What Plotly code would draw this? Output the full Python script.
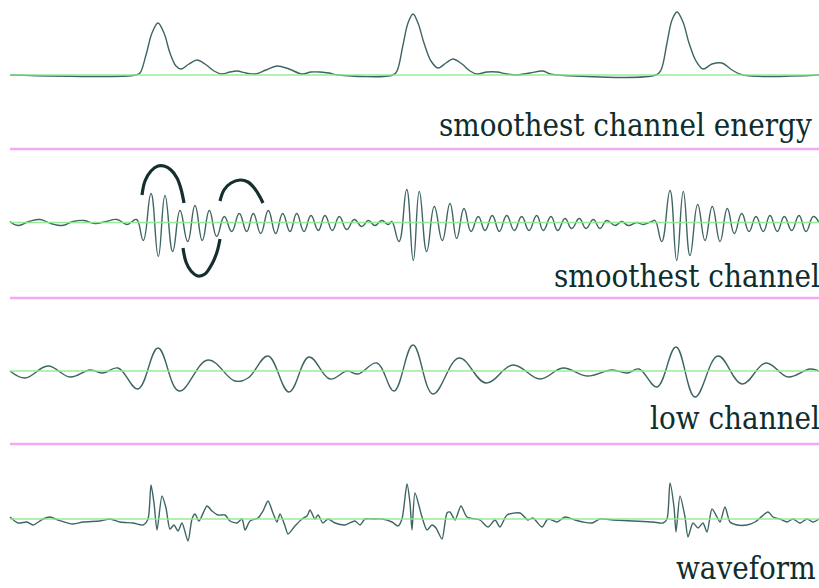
import plotly.graph_objects as go

# ---------------- data (time in samples, amplitude in arbitrary units) ----------------
energy_t = [10, 136, 140, 146, 152, 158, 164, 170, 176, 181, 189, 197, 205, 214, 222, 230, 237, 246, 255,
            266, 277, 289, 302, 311, 320, 329, 338, 393, 397, 403, 408, 413, 418, 424, 431, 438, 446, 453,
            462, 470, 477, 487, 497, 507, 517, 530, 543, 550, 557, 656, 661, 667, 672, 677, 683, 689, 696,
            703, 712, 722, 732, 743, 819]
energy_v = [0, 0, 2, 20, 42, 52, 42, 22, 9, 6, 11, 15, 11, 4, 1, 3, 4, 2, 1,
            5, 9, 6, 1, 3, 3, 2, 0, 0, 4, 30, 52, 61, 52, 32, 14, 7, 12, 16,
            11, 4, 1, 3, 3, 1, 0, 2, 4, 1, 0, 0, 5, 32, 55, 63, 53, 32, 14,
            6, 11, 12, 5, 0, 0]

smooth_t = [10, 18, 29, 40, 51, 62, 73, 84, 95, 106, 117, 127, 132, 136.7,
            143.3, 151, 158.3, 165, 172.7, 180, 187.7, 195, 202.3, 209.3, 216.7, 224.3, 231.7, 239.3,
            246.7, 253.3, 260.7, 268.3, 275.7, 282.7, 290, 296.7, 304, 311, 318.3, 325, 332.3, 339.3,
            346.7, 354.3, 361.7, 368.3, 375, 381.7, 388.3,
            391.7, 399, 406.7, 413.3, 419.3, 426.7, 434.3, 442.3, 450, 456.7, 464, 471, 478.3, 485,
            492.3, 499.3, 506.7, 514.3, 521.7, 529, 536.7, 543.3, 551, 557.7, 565, 571.7, 579.3, 586,
            593.3, 600, 606.7, 615, 621.7, 628.3, 636.7, 643.3, 651.7,
            655, 661.7, 670, 676.7, 683.3, 690, 697.7, 705, 712.3, 720, 727.3, 734.3, 741.7, 749,
            756, 763.3, 770, 777.3, 784.3, 791.7, 799, 806, 813.3, 819]
smooth_v = [1, -3, 1, 3, -1, -3, 1, 2, -1, 1, 3, -2, 1, 3,
            -18, 29, -34, 27, -29, 12, -19, 17, -18, 12, -14, 6, -9, 9,
            -9, 9, -11, 12, -11, 9, -9, 9, -9, 7, -8, 7, -8, 6,
            -7, 3, -4, 2, -3, 2, -2,
            1, -19, 33, -38, 31, -29, 16, -18, 19, -16, 14, -9, 6, -8,
            7, -9, 7, -8, 6, -8, 7, -8, 6, -8, 4, -6, 4, -6,
            3, -6, 2, -3, 1, -3, 0, -2, 1,
            2, -19, 32, -38, 31, -33, 18, -18, 16, -19, 14, -11, 9, -9,
            6, -9, 7, -9, 6, -8, 7, -9, 6, 0]

low_t = [10, 25, 48, 70, 90, 103, 118, 138, 158, 179, 208, 235, 248, 268, 289, 309, 330, 347, 358,
         377, 394, 413, 433, 459, 486, 513, 540, 563, 587, 612, 627, 639, 657, 676, 695, 718, 742,
         766, 788, 810, 819]
low_v = [0, -7, 5, -6, 1, -2, 3, -18, 23, -20, 11, -10, -7, 15, -21, 14, -8, 0, -3,
         8, -20, 26, -23, 13, -12, 6, -8, 3, -5, 1, -2, 2, -16, 24, -26, 15, -13,
         8, -6, 2, 0]

wave_t = [10, 18, 27, 33, 43, 50, 58, 73, 83, 100, 110, 120, 133, 143, 148, 151, 154, 157, 162,
          166, 170, 174, 178, 182, 188, 192, 195, 199, 207, 212, 218, 225, 230, 237, 242, 245,
          250, 258, 263, 268, 273, 277, 280, 285, 288, 295, 302, 307, 310, 315, 318, 323, 328,
          335, 345, 355, 360, 365, 373, 382, 392, 398, 402, 407, 410, 412, 415, 422, 427, 432,
          436, 442, 447, 450, 455, 461, 467, 480, 488, 495, 500, 507, 520, 528, 533, 542, 548,
          557, 565, 575, 583, 592, 600, 613, 633, 653, 663, 667, 670, 674, 676, 680, 685, 688,
          693, 698, 703, 707, 712, 717, 720, 725, 730, 737, 747, 755, 760, 768, 773, 780, 787,
          793, 800, 807, 813, 819]
wave_v = [2, -4, -3, -6, 0, 2, -1, -5, -3, -2, 0, -3, -4, -6, 0, 34, 16, -11, 23,
          11, -10, -6, -12, -4, -22, 0, 5, -2, 13, 8, 4, 4, -2, -4, 0, -11,
          -2, 1, 8, 18, 6, -3, 5, -7, -15, -7, 0, 3, 9, 0, 4, -4, 0,
          -4, -6, -2, -6, 0, 0, 0, -3, -7, 0, 35, 16, -11, 26, 2, -11, -6,
          -9, -20, 6, 7, -1, 13, 2, -1, -8, -1, -8, 4, 6, -1, 1, -8, 0,
          -3, 2, -1, -3, -4, 0, -1, -2, -3, -4, 0, 36, 12, -13, 23, 2, -18,
          -4, -9, -4, -13, 10, 2, -3, 12, -3, -6, -6, -3, 1, 7, 2, 0, -3,
          0, -4, 0, -3, 0]

# hand-drawn arcs on the "smoothest channel" panel
arc1_t = [142, 145, 151, 158, 164, 171, 177, 181, 184]
arc1_v = [27.5, 41.5, 51.5, 56.5, 56.5, 52.5, 44.5, 33.5, 19.5]
arc2_t = [183, 186, 191, 198, 205, 212, 217, 220]
arc2_v = [-25.5, -39.5, -48.5, -53.5, -51.5, -41.5, -29.5, -16.5]
arc3_t = [220, 224, 231, 240, 248, 255, 260, 263]
arc3_v = [21.5, 32.5, 39.5, 42.5, 40.5, 33.5, 25.5, 19.5]

labels = ["smoothest channel energy", "smoothest channel", "low channel", "waveform"]

# ---------------- layout constants ----------------
W, H = 819, 588
baselines = [75, 222.5, 371, 519]          # pixel row of each panel's zero line
label_y = [125, 276, 418, 568]
label_x = [814, 822, 822, 818]             # right edge of each label, pixels
separators = [149, 298, 444]
T0, T1 = 10, 819
LABEL_FONT = dict(family="DejaVu Serif Condensed", size=31, color="#0e2e2e")

TRACE = "#3f6464"
GREEN = "#8cec8c"
PINK = "#f2a8f2"

fig = go.Figure()
axes = ["y", "y2", "y3", "y4"]

series = [(energy_t, energy_v, 1.0),
          (smooth_t, smooth_v, 1.3),
          (low_t, low_v, 1.1),
          (wave_t, wave_v, 0.7)]

for i, (t, v, sm) in enumerate(series):
    fig.add_trace(go.Scatter(x=t, y=v, mode="lines", yaxis=axes[i],
                             line=dict(color=TRACE, width=1.4, shape="spline", smoothing=sm),
                             hoverinfo="skip", showlegend=False))
    fig.add_trace(go.Scatter(x=[T0, T1], y=[0, 0], mode="lines", yaxis=axes[i],
                             line=dict(color=GREEN, width=1.4),
                             opacity=0.9, hoverinfo="skip", showlegend=False))

for at, av in [(arc1_t, arc1_v), (arc2_t, arc2_v), (arc3_t, arc3_v)]:
    fig.add_trace(go.Scatter(x=at, y=av, mode="lines", yaxis="y2",
                             line=dict(color="#152e2e", width=3.2, shape="spline", smoothing=1.0),
                             hoverinfo="skip", showlegend=False))

for s in separators:
    fig.add_shape(type="line", xref="x", yref="paper", x0=T0, x1=T1 + 5,
                  y0=1 - s / H, y1=1 - s / H, line=dict(color=PINK, width=2.5))

for lab, lx, ly in zip(labels, label_x, label_y):
    fig.add_annotation(text=lab, x=lx / W, xref="paper", y=1 - ly / H, yref="paper",
                       xanchor="right", yanchor="middle", showarrow=False, font=LABEL_FONT)

layout = dict(width=W, height=H, margin=dict(l=0, r=0, t=0, b=0),
              paper_bgcolor="white", plot_bgcolor="white", showlegend=False,
              xaxis=dict(range=[0, W], visible=False, fixedrange=True))
for i, b in enumerate(baselines):
    key = "yaxis" if i == 0 else f"yaxis{i+1}"
    d = dict(range=[b - H, b], visible=False, fixedrange=True, domain=[0, 1])
    if i > 0:
        d["overlaying"] = "y"
    layout[key] = d
fig.update_layout(**layout)

fig.write_html("out.html")
